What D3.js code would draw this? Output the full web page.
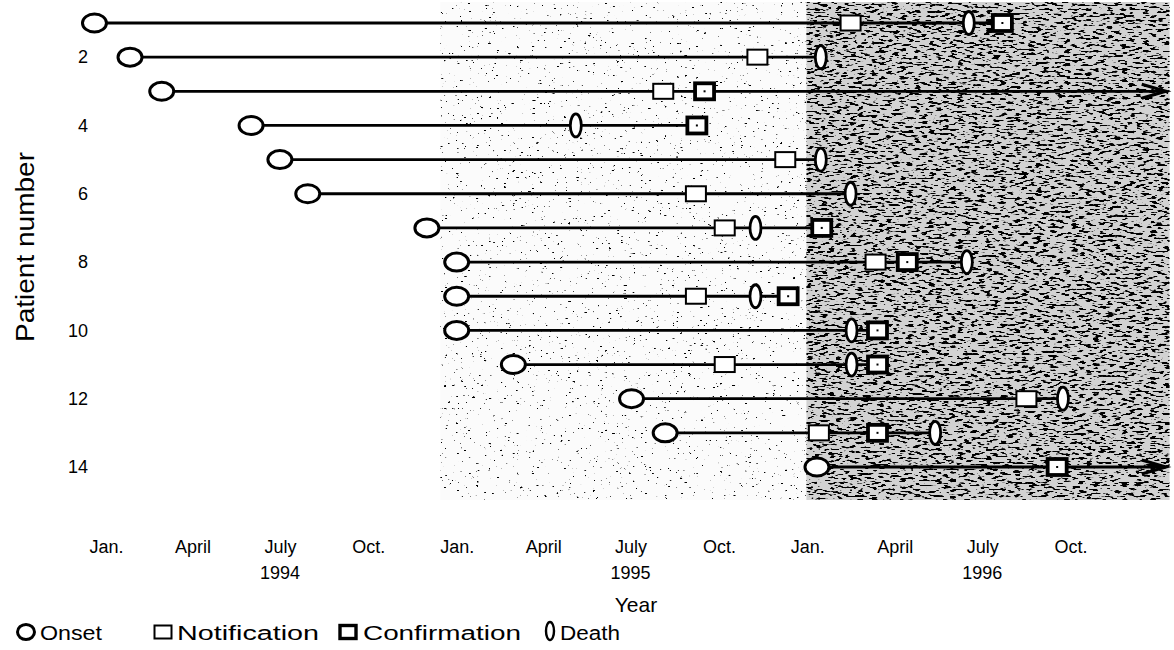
<!DOCTYPE html>
<html><head><meta charset="utf-8">
<script src="https://cdn.jsdelivr.net/npm/d3@7"></script>
<style>
html,body{margin:0;padding:0;background:#fff;}
text{font-family:"Liberation Sans",Arial,sans-serif;fill:#000;}
</style></head>
<body><svg id="c" width="1174" height="650"></svg>
<script>
const patients = [1,2,3,4,5,6,7,8,9,10,11,12,13,14];
const onset = ["1993-12-20","1994-01-26","1994-02-28","1994-06-01","1994-07-01","1994-07-30","1994-12-01","1995-01-01","1995-01-01","1995-01-01","1995-03-01","1995-07-02","1995-08-06","1996-01-11"];
const notification = ["1996-02-15","1995-11-10","1995-08-04",null,"1995-12-09","1995-09-07","1995-10-07","1996-03-12","1995-09-07",null,"1995-10-07","1996-08-16","1996-01-13",null];
const confirmation = ["1996-07-22",null,"1995-09-16","1995-09-08",null,null,"1996-01-16","1996-04-14","1995-12-12","1996-03-14","1996-03-14",null,"1996-03-14","1996-09-17"];
const death = ["1996-06-17","1996-01-15",null,"1995-05-05","1996-01-15","1996-02-15","1995-11-08","1996-06-15","1995-11-08","1996-02-16","1996-02-16","1996-09-23","1996-05-13",null];
const stillAlive = [false,false,true,false,false,false,false,false,false,false,false,false,false,true];
const followUpEnd = "1997-01-08";
const tickDates = ["1994-01-01","1994-04-01","1994-07-01","1994-10-01","1995-01-01","1995-04-01","1995-07-01","1995-10-01","1996-01-01","1996-04-01","1996-07-01","1996-10-01"];
const tickLabels = ["Jan.","April","July","Oct.","Jan.","April","July","Oct.","Jan.","April","July","Oct."];
const yearLabels = ["1994","1995","1996"];
const yearDates = ["1994-07-01","1995-07-01","1996-07-01"];
const yTicks = [2,4,6,8,10,12,14];
const shadeBands = [{from:"1994-12-15",to:"1995-12-31",level:"light"},{from:"1995-12-31",to:"1997-01-12",level:"dark"}];
const legendLabels = ["Onset","Notification","Confirmation","Death"];

const P = d3.timeParse("%Y-%m-%d");
const svg = d3.select("#c");
const x = d3.scaleTime().domain([P("1994-01-01"), P("1997-01-01")]).range([106, 1159]);
const y = d3.scaleLinear().domain([1,14]).range([23,467]);

const defs = svg.append("defs");
function noiseFilter(id, thr, seed, freq){
  const f = defs.append("filter").attr("id",id).attr("x",0).attr("y",0).attr("width","100%").attr("height","100%")
    .attr("filterUnits","objectBoundingBox");
  f.append("feTurbulence").attr("type","fractalNoise").attr("baseFrequency",freq).attr("numOctaves",2).attr("seed",seed).attr("result","n");
  f.append("feColorMatrix").attr("in","n").attr("type","matrix")
    .attr("values",`0 0 0 0 0  0 0 0 0 0  0 0 0 0 0  -16 0 0 0 ${16*thr}`).attr("result","a");
  f.append("feComposite").attr("in","a").attr("in2","SourceGraphic").attr("operator","in");
}
noiseFilter("nLight",0.28,3,"0.25 0.6");
noiseFilter("nDark",0.45,7,"0.14 0.45");

// shading
const sg = svg.append("g");
sg.selectAll("rect.base").data(shadeBands).enter().append("rect")
  .attr("x", d=>x(P(d.from))).attr("width", d=>x(P(d.to))-x(P(d.from)))
  .attr("y", 2).attr("height", 498)
  .attr("fill", d=>d.level==="light" ? "#fbfbfb" : "#d2d2d2");
sg.selectAll("rect.tex").data(shadeBands).enter().append("rect")
  .attr("x", d=>x(P(d.from))).attr("width", d=>x(P(d.to))-x(P(d.from)))
  .attr("y", 2).attr("height", 498)
  .attr("fill","#000")
  .attr("filter", d=>d.level==="light" ? "url(#nLight)" : "url(#nDark)");

const rows = patients.map((p,i)=>({p, on:P(onset[i]), no:notification[i]&&P(notification[i]), co:confirmation[i]&&P(confirmation[i]), de:death[i]&&P(death[i]), alive:stillAlive[i]}));

// lines
rows.forEach(r=>{
  const ends = [r.no,r.co,r.de].filter(Boolean);
  const end = r.alive ? P(followUpEnd) : d3.max(ends);
  svg.append("line").attr("x1",x(r.on)).attr("x2",x(end)).attr("y1",y(r.p)).attr("y2",y(r.p))
    .attr("stroke","#000").attr("stroke-width",2.8);
  if(r.alive){
    svg.append("path").attr("d",`M${x(end)-24},${y(r.p)-7} L${x(end)},${y(r.p)} L${x(end)-24},${y(r.p)+7}`)
      .attr("fill","none").attr("stroke","#000").attr("stroke-width",3.2);
  }
});

function drawOnset(g,cx,cy,s=1){ g.append("ellipse").attr("cx",cx).attr("cy",cy).attr("rx",12*s).attr("ry",9*s).attr("fill","#fff").attr("stroke","#000").attr("stroke-width",3); }
function drawNotif(g,cx,cy,s=1){ g.append("rect").attr("x",cx-10*s).attr("y",cy-7.5*s).attr("width",20*s).attr("height",15*s).attr("fill","#fff").attr("stroke","#000").attr("stroke-width",2); }
function drawConf(g,cx,cy,s=1){ g.append("rect").attr("x",cx-9.5*s).attr("y",cy-8*s).attr("width",19*s).attr("height",16*s).attr("fill","#fff").attr("stroke","#000").attr("stroke-width",3.8);
  g.append("rect").attr("x",cx-1).attr("y",cy-1).attr("width",2).attr("height",2).attr("fill","#000"); }
function drawDeath(g,cx,cy,s=1){ g.append("ellipse").attr("cx",cx).attr("cy",cy).attr("rx",5.5*s).attr("ry",11.5*s).attr("fill","#fff").attr("stroke","#000").attr("stroke-width",2.8); }

const mg = svg.append("g");
rows.forEach(r=>{
  const cy = y(r.p);
  drawOnset(mg, x(r.on), cy);
  if(r.no) drawNotif(mg, x(r.no), cy);
  if(r.co) drawConf(mg, x(r.co), cy);
  if(r.de) drawDeath(mg, x(r.de), cy);
});

// axes
const xa = svg.append("g").attr("transform","translate(0,540)")
  .call(d3.axisBottom(x).tickValues(tickDates.map(P)).tickFormat((d,i)=>tickLabels[i]).tickSize(0).tickPadding(0));
xa.select(".domain").remove();
xa.selectAll("text").attr("font-size",18).attr("font-family","Liberation Sans, Arial, sans-serif").attr("fill","#000").attr("dy","0.71em");

svg.selectAll("text.year").data(yearLabels).enter().append("text").attr("class","year")
  .attr("x",(d,i)=>x(P(yearDates[i]))).attr("y",579).attr("text-anchor","middle").attr("font-size",18).text(d=>d);

const ya = svg.append("g").attr("transform","translate(88,0)")
  .call(d3.axisLeft(y).tickValues(yTicks).tickSize(0).tickPadding(0));
ya.select(".domain").remove();
ya.selectAll("text").attr("font-size",18).attr("font-family","Liberation Sans, Arial, sans-serif").attr("fill","#000");

svg.append("text").attr("x",636).attr("y",612).attr("text-anchor","middle").attr("font-size",21).text("Year");
svg.append("text").attr("transform","translate(34,247) rotate(-90)").attr("text-anchor","middle").attr("font-size",25)
  .attr("textLength",190).attr("lengthAdjust","spacingAndGlyphs").text("Patient number");

// legend
const lg = svg.append("g").attr("transform","translate(0,632)");
const legendPos = [{mx:26,tx:40,w:62},{mx:163,tx:177,w:142},{mx:348,tx:363,w:158},{mx:550,tx:560,w:60}];
legendLabels.forEach((lab,i)=>{
  const it = legendPos[i];
  const g = lg.append("g");
  if(i===0){ g.append("ellipse").attr("cx",it.mx).attr("cy",0).attr("rx",8.5).attr("ry",7.5).attr("fill","#fff").attr("stroke","#000").attr("stroke-width",3); }
  else if(i===1){ g.append("rect").attr("x",it.mx-8.5).attr("y",-6.5).attr("width",17).attr("height",13).attr("fill","#fff").attr("stroke","#000").attr("stroke-width",2); }
  else if(i===2){ g.append("rect").attr("x",it.mx-8).attr("y",-6.5).attr("width",16).attr("height",13).attr("fill","#fff").attr("stroke","#000").attr("stroke-width",3.4); }
  else { g.append("ellipse").attr("cx",it.mx).attr("cy",-1).attr("rx",4).attr("ry",9).attr("fill","#fff").attr("stroke","#000").attr("stroke-width",2.4); }
  g.append("text").attr("x",it.tx).attr("y",8).attr("font-size",20).attr("textLength",it.w).attr("lengthAdjust","spacingAndGlyphs").text(lab);
});
</script></body></html>
